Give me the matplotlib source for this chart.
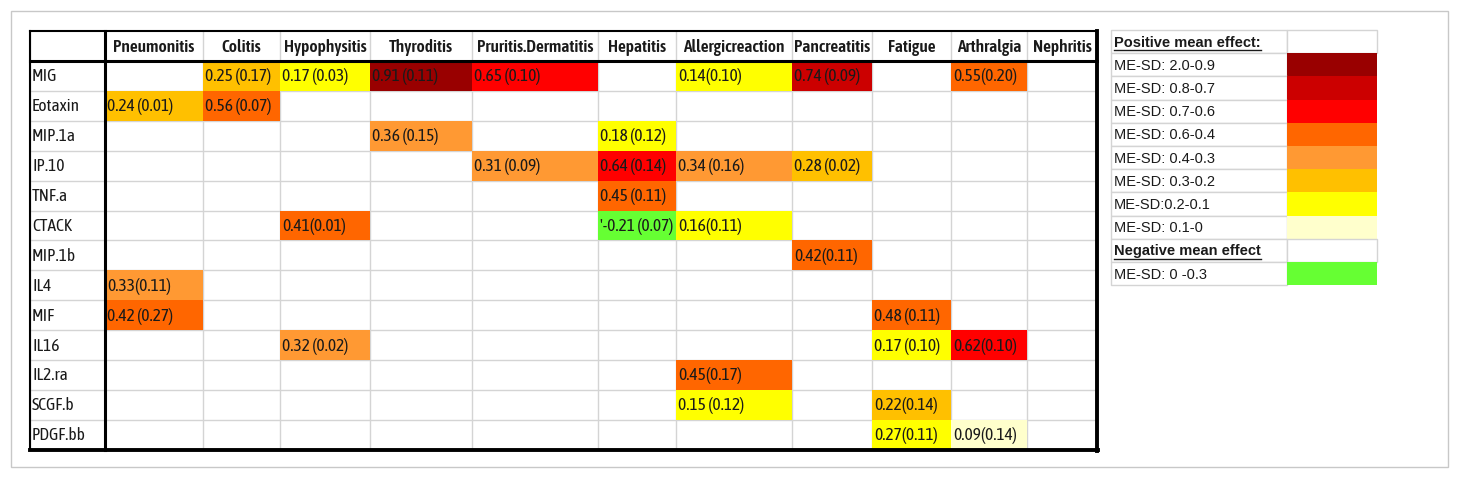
import matplotlib.pyplot as plt
from matplotlib.patches import Rectangle

# adverse events (columns) and markers (rows)
diseases = ['Pneumonitis', 'Colitis', 'Hypophysitis', 'Thyroditis', 'Pruritis.Dermatitis',
            'Hepatitis', 'Allergicreaction', 'Pancreatitis', 'Fatigue', 'Arthralgia', 'Nephritis']
markers = ['MIG', 'Eotaxin', 'MIP.1a', 'IP.10', 'TNF.a', 'CTACK', 'MIP.1b',
           'IL4', 'MIF', 'IL16', 'IL2.ra', 'SCGF.b', 'PDGF.bb']

# legend classes, darkest first
level_labels = ['ME-SD: 2.0-0.9', 'ME-SD: 0.8-0.7', 'ME-SD: 0.7-0.6', 'ME-SD: 0.6-0.4',
                'ME-SD: 0.4-0.3', 'ME-SD: 0.3-0.2', 'ME-SD:0.2-0.1', 'ME-SD: 0.1-0']
level_colors = ['#990000', '#cc0000', '#ff0000', '#ff6600',
                '#ff9933', '#ffc000', '#ffff00', '#ffffcc']
neg_label = 'ME-SD: 0 -0.3'
neg_color = '#66ff33'

# filled cells: marker, disease, text, colour class (-1 = negative)
cell_marker = ['MIG', 'MIG', 'MIG', 'MIG', 'MIG', 'MIG', 'MIG',
               'Eotaxin', 'Eotaxin',
               'MIP.1a', 'MIP.1a',
               'IP.10', 'IP.10', 'IP.10', 'IP.10',
               'TNF.a',
               'CTACK', 'CTACK', 'CTACK',
               'MIP.1b',
               'IL4',
               'MIF', 'MIF',
               'IL16', 'IL16', 'IL16',
               'IL2.ra',
               'SCGF.b', 'SCGF.b',
               'PDGF.bb', 'PDGF.bb']
cell_disease = ['Colitis', 'Hypophysitis', 'Thyroditis', 'Pruritis.Dermatitis', 'Allergicreaction', 'Pancreatitis', 'Arthralgia',
                'Pneumonitis', 'Colitis',
                'Thyroditis', 'Hepatitis',
                'Pruritis.Dermatitis', 'Hepatitis', 'Allergicreaction', 'Pancreatitis',
                'Hepatitis',
                'Hypophysitis', 'Hepatitis', 'Allergicreaction',
                'Pancreatitis',
                'Pneumonitis',
                'Pneumonitis', 'Fatigue',
                'Hypophysitis', 'Fatigue', 'Arthralgia',
                'Allergicreaction',
                'Allergicreaction', 'Fatigue',
                'Fatigue', 'Arthralgia']
cell_text = ['0.25 (0.17)', '0.17 (0.03)', '0.91 (0.11)', '0.65 (0.10)', '0.14(0.10)', '0.74 (0.09)', '0.55(0.20)',
             '0.24 (0.01)', '0.56 (0.07)',
             '0.36 (0.15)', '0.18 (0.12)',
             '0.31 (0.09)', '0.64 (0.14)', '0.34 (0.16)', '0.28 (0.02)',
             '0.45 (0.11)',
             '0.41(0.01)', "'-0.21 (0.07)", '0.16(0.11)',
             '0.42(0.11)',
             '0.33(0.11)',
             '0.42 (0.27)', '0.48 (0.11)',
             '0.32 (0.02)', '0.17 (0.10)', '0.62(0.10)',
             '0.45(0.17)',
             '0.15 (0.12)', '0.22(0.14)',
             '0.27(0.11)', '0.09(0.14)']
cell_level = [5, 6, 0, 2, 6, 1, 3,
              5, 3,
              4, 6,
              4, 2, 4, 5,
              3,
              3, -1, 6,
              3,
              4,
              3, 3,
              4, 6, 2,
              3,
              6, 5,
              6, 7]

# layout in pixels
col_edges = [30, 105, 203, 280, 370, 472, 598, 676, 792, 872, 951, 1027, 1097]
top, head_bot, row_h = 31, 61, 29.9
bottom = head_bot + row_h * len(markers)
narrow = ['Asap Condensed', 'Liberation Sans']
grey = '#d4d4d4'
ink = '#1a1a1a'
fs = 12.5

fig = plt.figure(figsize=(14.6, 4.79), dpi=100)
ax = fig.add_axes([0, 0, 1, 1])
ax.set_xlim(0, 1460)
ax.set_ylim(479, 0)
ax.axis('off')

# outer frame
ax.add_patch(Rectangle((11, 11), 1437, 456, fill=False, ec='#c8c8c8', lw=1))

# light grid
for i in range(len(markers) + 1):
    y = head_bot + i * row_h
    ax.plot([col_edges[0], col_edges[-1]], [y, y], color=grey, lw=1, zorder=1)
for x in col_edges:
    ax.plot([x, x], [top, bottom], color=grey, lw=1, zorder=1)

# coloured cells
for m, d, t, lv in zip(cell_marker, cell_disease, cell_text, cell_level):
    r = markers.index(m)
    c = diseases.index(d) + 1
    x0, x1 = col_edges[c], col_edges[c + 1]
    y0 = head_bot + r * row_h
    col = neg_color if lv < 0 else level_colors[lv]
    ax.add_patch(Rectangle((x0, y0), x1 - x0, row_h, fc=col, ec='none', zorder=2))
    ax.text(x0 + 2, y0 + row_h / 2 + 1, t, ha='left', va='center', fontsize=fs,
            family=narrow, color=ink, zorder=4)

# row and column labels
for r, m in enumerate(markers):
    ax.text(col_edges[0] + 2, head_bot + r * row_h + row_h / 2 + 1, m, ha='left', va='center',
            fontsize=fs, family=narrow, color=ink, zorder=4)
for c, d in enumerate(diseases):
    xc = (col_edges[c + 1] + col_edges[c + 2]) / 2
    ax.text(xc, (top + head_bot) / 2 + 1, d, ha='center', va='center', fontsize=fs,
            family=narrow, fontweight='semibold', color=ink, zorder=4)

# heavy borders
ax.plot([col_edges[0], col_edges[-1]], [top, top], color='black', lw=1.5, zorder=3)
ax.plot([col_edges[0], col_edges[0]], [top, bottom], color='black', lw=1.5, zorder=3)
ax.plot([col_edges[0], col_edges[-1]], [head_bot, head_bot], color='black', lw=2.2, zorder=3)
ax.plot([col_edges[1], col_edges[1]], [top, bottom], color='black', lw=2.2, zorder=3)
ax.plot([col_edges[-1], col_edges[-1]], [top, bottom + 1], color='black', lw=2.8, zorder=3)
ax.plot([col_edges[0], col_edges[-1] + 1], [bottom, bottom], color='black', lw=2.8, zorder=3)

# legend table
lx0, lx1, lx2 = 1111, 1287, 1377
ltop, lrow = 30, 23.2
leg_text = ['Positive mean effect:'] + level_labels + ['Negative mean effect', neg_label]
leg_fill = ['white'] + level_colors + ['white', neg_color]
heads = []
for i, (t, fc) in enumerate(zip(leg_text, leg_fill)):
    y0 = ltop + i * lrow
    ax.add_patch(Rectangle((lx0, y0), lx1 - lx0, lrow, fc='white', ec=grey, lw=1, zorder=1))
    ax.add_patch(Rectangle((lx1, y0), lx2 - lx1, lrow, fc=fc, ec=grey if fc == 'white' else 'none',
                           lw=1, zorder=1))
    bold = t.startswith('Positive') or t.startswith('Negative')
    txt = ax.text(lx0 + 3, y0 + lrow / 2 + 1, t, ha='left', va='center', fontsize=10.5,
                  family=['Liberation Sans', 'DejaVu Sans'],
                  fontweight='bold' if bold else 'normal', color=ink, zorder=4)
    if bold:
        heads.append((txt, y0))

# underline the two legend headings
fig.canvas.draw()
inv = ax.transData.inverted()
for txt, y0 in heads:
    bb = txt.get_window_extent()
    (xa, _), (xb, _) = inv.transform([(bb.x0, bb.y0), (bb.x1, bb.y0)])
    ax.plot([xa, xb], [y0 + lrow - 3, y0 + lrow - 3], color=ink, lw=1, zorder=4)

fig.savefig('out.png', dpi=100)
